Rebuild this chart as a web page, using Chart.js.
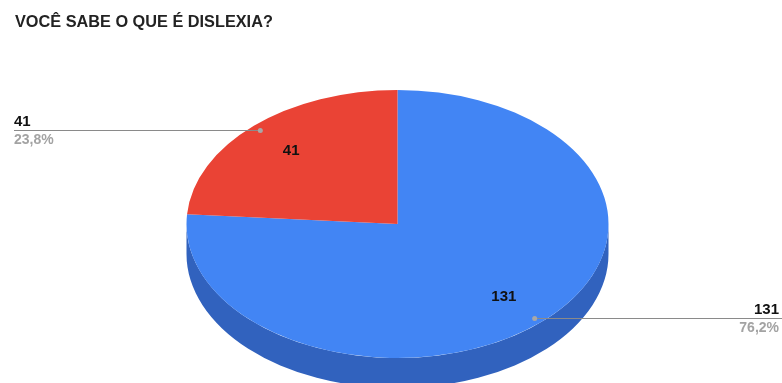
<!DOCTYPE html>
<html>
<head>
<meta charset="utf-8">
<script src="https://cdn.jsdelivr.net/npm/chart.js@4.4.1/dist/chart.umd.min.js"></script>
<style>
  html, body { margin: 0; padding: 0; background: #fff; }
  #wrap { width: 782px; height: 383px; }
</style>
</head>
<body>
<div id="wrap"><canvas id="dislexiaChart"></canvas></div>
<script>
var answers = ['Sim', 'Não'];
var counts = [131, 41];
var topColors = ['#4285f4', '#ea4335'];
var sideColors = ['#3162be', '#b3352a'];

var total = counts.reduce(function (a, b) { return a + b; }, 0);
function pct(v) {
    return (v / total * 100).toFixed(1).replace('.', ',') + '%';
}

// flattens the pie into an ellipse and adds the front wall
const pie3d = {
    id: 'pie3d',
    beforeDatasetsDraw(chart, args, opts) {
        const ctx = chart.ctx;
        const arcs = chart.getDatasetMeta(0).data;
        const cx = arcs[0].x, cy = arcs[0].y, r = arcs[0].outerRadius;
        const k = opts.tilt, depth = opts.depth;
        ctx.save();
        arcs.forEach(function (arc, i) {
            const a0 = Math.max(arc.startAngle, 0);
            const a1 = Math.min(arc.endAngle, Math.PI);
            if (a1 <= a0) return;
            ctx.beginPath();
            ctx.ellipse(cx, cy, r, r * k, 0, a0, a1);
            ctx.ellipse(cx, cy + depth, r, r * k, 0, a1, a0, true);
            ctx.closePath();
            ctx.fillStyle = sideColors[i];
            ctx.fill();
        });
        ctx.restore();
        ctx.save();
        ctx.translate(cx, cy);
        ctx.scale(1, k);
        ctx.translate(-cx, -cy);
    },
    afterDatasetsDraw(chart) {
        chart.ctx.restore();
    },
    afterDraw(chart, args, opts) {
        const ctx = chart.ctx;
        const arcs = chart.getDatasetMeta(0).data;
        const k = opts.tilt;
        const font = 'Liberation Sans, Arial, sans-serif';
        arcs.forEach(function (arc, i) {
            const mid = (arc.startAngle + arc.endAngle) / 2;
            const cos = Math.cos(mid), sin = Math.sin(mid);
            const r = arc.outerRadius;

            // value inside the slice
            ctx.fillStyle = '#111';
            ctx.font = 'bold 15px ' + font;
            ctx.textAlign = 'center';
            ctx.textBaseline = 'middle';
            ctx.fillText(counts[i], arc.x + cos * r * 0.74, arc.y + sin * r * 0.74 * k);

            // leader line out to the side
            const dx = arc.x + cos * r * 0.955;
            const dy = Math.round(arc.y + sin * r * 0.955 * k) + 0.5;
            const left = cos < 0;
            const ex = left ? 14 : chart.width;
            ctx.strokeStyle = '#8a8a8a';
            ctx.lineWidth = 1;
            ctx.beginPath();
            ctx.moveTo(dx, dy);
            ctx.lineTo(ex, dy);
            ctx.stroke();
            ctx.fillStyle = '#a8a8a8';
            ctx.beginPath();
            ctx.arc(dx, dy, 2.5, 0, Math.PI * 2);
            ctx.fill();

            const tx = left ? 14 : chart.width - 3;
            ctx.textAlign = left ? 'left' : 'right';
            ctx.fillStyle = '#111';
            ctx.font = 'bold 15px ' + font;
            ctx.fillText(counts[i], tx, dy - 9);
            ctx.fillStyle = '#a3a3a3';
            ctx.font = 'bold 14px ' + font;
            ctx.fillText(pct(counts[i]), tx, dy + 10);
        });
    }
};

const config = {
    type: 'pie',
    data: {
        labels: answers,
        datasets: [{
            data: counts,
            backgroundColor: topColors,
            borderWidth: 0,
            radius: 211,
            clip: false,
            hoverOffset: 0
        }]
    },
    options: {
        responsive: true,
        maintainAspectRatio: false,
        animation: false,
        events: [],
        layout: { padding: { left: 15, right: 2, top: 0, bottom: 0 } },
        plugins: {
            legend: { display: false },
            tooltip: { enabled: false },
            title: {
                display: true,
                text: 'VOCÊ SABE O QUE É DISLEXIA?',
                align: 'start',
                color: '#222',
                font: { family: 'Liberation Sans, Arial, sans-serif', size: 16.3, weight: 'bold' },
                padding: { top: 13, bottom: 32.4 }
            },
            pie3d: { tilt: 0.635, depth: 30 }
        }
    },
    plugins: [pie3d]
};

const chart = new Chart(document.getElementById('dislexiaChart'), config);
</script>
</body>
</html>
